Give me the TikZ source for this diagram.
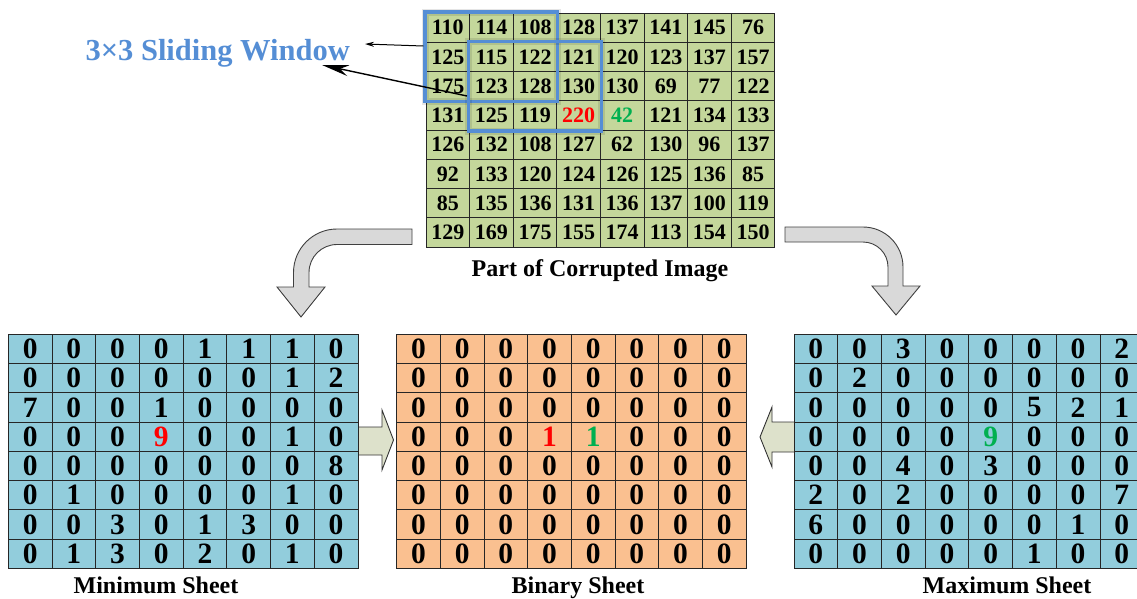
\documentclass[tikz,border=0pt]{standalone}
\usepackage{fontspec}
\setmainfont{Liberation Serif}
\usetikzlibrary{arrows.meta,fit}
\definecolor{topgreen}{HTML}{C4D79B}
\definecolor{sheetblue}{HTML}{92CDDC}
\definecolor{binorange}{HTML}{FAC090}
\definecolor{numred}{HTML}{FF0000}
\definecolor{numgreen}{HTML}{00B050}
\definecolor{winblue}{HTML}{558ED5}
\definecolor{curvegray}{HTML}{D9D9D9}
\definecolor{blockfill}{HTML}{DDE1CB}
\newcommand\redv[1]{\textcolor{numred}{#1}}
\newcommand\grnv[1]{\textcolor{numgreen}{#1}}
\begin{document}
\begin{tikzpicture}[x=1pt,y=-1pt,
  basecell/.style={draw=black!85, line width=0.8pt, inner sep=0pt, outer sep=0pt, anchor=center},
  tcell/.style={basecell, fill=topgreen, minimum width=43.6pt, minimum height=29.25pt,
    font=\fontsize{22}{22}\selectfont\bfseries},
  scell/.style={basecell, minimum width=43.7pt, minimum height=29.25pt,
    font=\fontsize{29.5}{29.5}\selectfont\bfseries},
  mcell/.style={scell, fill=sheetblue},
  bcell/.style={scell, fill=binorange},
  label/.style={anchor=base, font=\fontsize{24}{24}\selectfont\bfseries},
  titletext/.style={anchor=base west, text=winblue, font=\fontsize{30.5}{30.5}\selectfont\bfseries},
  win/.style={draw=winblue, line width=3.2pt, inner sep=1pt,
    preaction={draw=black, draw opacity=0.1, line width=7pt}},
  curvearrow/.style={draw=black!75, line width=0.9pt, fill=curvegray, line join=miter},
  blockarrow/.style={draw=black!80, line width=0.9pt, fill=blockfill, line join=miter},
  thinarrowA/.style={draw=black, line width=1pt, -{Stealth[length=9pt,width=5pt]}},
  thinarrowB/.style={draw=black, line width=1.4pt, -{Stealth[length=27pt,width=11pt]}}
]
\useasboundingbox (0,0) rectangle (1137,598);
\clip (0,0) rectangle (1137,598);

% curved gray arrows
\draw[curvearrow] (412,229) -- (337,229) .. controls (313,229) and (293.5,248.5) .. (293.5,272.5)
  -- (293.5,287) -- (277,287) -- (301,317) -- (325,287) -- (309,287) -- (309,272.5)
  .. controls (309,257) and (321.5,244.5) .. (337,244.5) -- (412,244.5) -- cycle;
\draw[curvearrow] (785,227) -- (863,227) .. controls (885.1,227) and (903,244.9) .. (903,267)
  -- (903,286) -- (920,286) -- (896,315) -- (872,286) -- (888,286) -- (888,267)
  .. controls (888,253.2) and (876.8,242) .. (863,242) -- (785,242) -- cycle;

% block arrows between sheets
\draw[blockarrow] (355,427) -- (382,427) -- (382,410) -- (393.5,440) -- (382,470) -- (382,455) -- (355,455) -- cycle;
\draw[blockarrow] (798,422) -- (772,422) -- (772,407) -- (760,437) -- (772,467) -- (772,452) -- (798,452) -- cycle;

% top grid
\foreach \row [count=\ri from 0] in {
  {110,114,108,128,137,141,145,76},
  {125,115,122,121,120,123,137,157},
  {175,123,128,130,130,69,77,122},
  {131,125,119,\redv{220},\grnv{42},121,134,133},
  {126,132,108,127,62,130,96,137},
  {92,133,120,124,126,125,136,85},
  {85,135,136,131,136,137,100,119},
  {129,169,175,155,174,113,154,150}}{
  \foreach \v [count=\ci from 0] in \row {
    \node[tcell] (t-\ri-\ci) at ({426+43.6*(\ci+0.5)},{13+29.25*(\ri+0.5)}) {\v};
  }
}

% minimum sheet
\foreach \row [count=\ri from 0] in {
  {0,0,0,0,1,1,1,0},
  {0,0,0,0,0,0,1,2},
  {7,0,0,1,0,0,0,0},
  {0,0,0,\redv{9},0,0,1,0},
  {0,0,0,0,0,0,0,8},
  {0,1,0,0,0,0,1,0},
  {0,0,3,0,1,3,0,0},
  {0,1,3,0,2,0,1,0}}{
  \foreach \v [count=\ci from 0] in \row {
    \node[mcell] (m-\ri-\ci) at ({8.3+43.7*(\ci+0.5)},{334.3+29.25*(\ri+0.5)}) {\v};
  }
}

% binary sheet
\foreach \row [count=\ri from 0] in {
  {0,0,0,0,0,0,0,0},
  {0,0,0,0,0,0,0,0},
  {0,0,0,0,0,0,0,0},
  {0,0,0,\redv{1},\grnv{1},0,0,0},
  {0,0,0,0,0,0,0,0},
  {0,0,0,0,0,0,0,0},
  {0,0,0,0,0,0,0,0},
  {0,0,0,0,0,0,0,0}}{
  \foreach \v [count=\ci from 0] in \row {
    \node[bcell] (b-\ri-\ci) at ({396.7+43.66*(\ci+0.5)},{334.3+29.25*(\ri+0.5)}) {\v};
  }
}

% maximum sheet
\foreach \row [count=\ri from 0] in {
  {0,0,3,0,0,0,0,2},
  {0,2,0,0,0,0,0,0},
  {0,0,0,0,0,5,2,1},
  {0,0,0,0,\grnv{9},0,0,0},
  {0,0,4,0,3,0,0,0},
  {2,0,2,0,0,0,0,7},
  {6,0,0,0,0,0,1,0},
  {0,0,0,0,0,1,0,0}}{
  \foreach \v [count=\ci from 0] in \row {
    \node[mcell] (x-\ri-\ci) at ({794+43.7*(\ci+0.5)},{334.3+29.25*(\ri+0.5)}) {\v};
  }
}

% sliding windows
\node[win, fit=(t-0-0)(t-2-2)] (win1) {};
\node[win, fit=(t-1-1)(t-3-3)] (win2) {};

% labels
\node[titletext] (title) at (82,60) {3×3 Sliding Window};
\node[label] (lbltop) at (600,276) {Part of Corrupted Image};
\node[label] (lblmin) at (156,593) {Minimum Sheet};
\node[label] (lblbin) at (578,593) {Binary Sheet};
\node[label] (lblmax) at (1007,593) {Maximum Sheet};

% pointer arrows
\coordinate (tip1) at (365,44);
\coordinate (tip2) at (322,65);
\draw[thinarrowA] (win1.west |- 0,46) -- (tip1);
\draw[thinarrowB] (win2.west |- 0,96) -- (tip2);
\end{tikzpicture}
\end{document}
